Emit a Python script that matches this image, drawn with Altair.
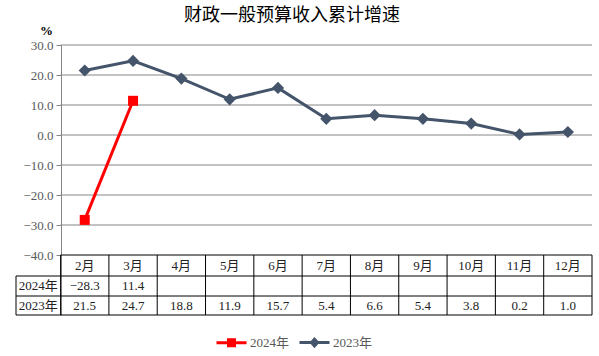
import altair as alt
import pandas as pd

# ---------------- data ----------------
title_text = "财政一般预算收入累计增速"
months = ["2月", "3月", "4月", "5月", "6月", "7月", "8月", "9月", "10月", "11月", "12月"]
series_names = ["2024年", "2023年"]
v2024 = [-28.3, 11.4]
v2023 = [21.5, 24.7, 18.8, 11.9, 15.7, 5.4, 6.6, 5.4, 3.8, 0.2, 1.0]
y_ticks = [30, 20, 10, 0, -10, -20, -30, -40]
unit_label = "%"

# ---------------- layout constants (data units) ----------------
HEAD_LEFT = -0.923          # left edge of the row-header column
ROW_EDGES = [-40, -47, -53.67, -60]   # table row boundaries on the y scale
Y_DOMAIN = [-60, 30]
X_DOMAIN = [HEAD_LEFT, len(months)]

COLORS = ["#FF0000", "#44546A"]
SHAPES = ["square", "diamond"]
SIZES = [100, 150]
FONT = "Liberation Serif, Noto Sans CJK SC"

# ---------------- tables built from the arrays ----------------
series_rows = []
for name, vals in zip(series_names, [v2024, v2023]):
    for i, v in enumerate(vals):
        series_rows.append({"series": name, "x": i + 0.5, "month": months[i], "v": v})
series_df = pd.DataFrame(series_rows)

row_mid = [(ROW_EDGES[k] + ROW_EDGES[k + 1]) / 2 for k in range(3)]

text_rows = [{"x": i + 0.5, "y": row_mid[0], "t": m} for i, m in enumerate(months)]
text_rows += [{"x": HEAD_LEFT / 2, "y": row_mid[k + 1], "t": s} for k, s in enumerate(series_names)]
text_df = pd.DataFrame(text_rows)

val_rows = []
for k, vals in enumerate([v2024, v2023]):
    for i, v in enumerate(vals):
        val_rows.append({"x": i + 0.5, "y": row_mid[k + 1], "v": v})
val_df = pd.DataFrame(val_rows)

grid_df = pd.DataFrame([{"x": 0, "x2": len(months), "y": t, "y2": t} for t in y_ticks if t > ROW_EDGES[0]])

table_lines = [{"x": 0, "x2": len(months), "y": ROW_EDGES[0], "y2": ROW_EDGES[0]}]
table_lines += [{"x": HEAD_LEFT, "x2": len(months), "y": e, "y2": e} for e in ROW_EDGES[1:]]
table_lines += [{"x": HEAD_LEFT, "x2": HEAD_LEFT, "y": ROW_EDGES[1], "y2": ROW_EDGES[-1]}]
table_lines += [{"x": c, "x2": c, "y": ROW_EDGES[0], "y2": ROW_EDGES[-1]} for c in range(len(months) + 1)]
table_df = pd.DataFrame(table_lines)

# ---------------- scales / axis ----------------
xs = alt.Scale(domain=X_DOMAIN, nice=False, zero=False)
ys = alt.Scale(domain=Y_DOMAIN, nice=False, zero=False)

X = alt.X("x:Q", scale=xs, axis=None)
Y_axis = alt.Axis(
    values=y_ticks, format=".1f", offset=-45, grid=False, zindex=0, labelOverlap=False,
    domainColor="#868686", tickColor="#868686", tickSize=5, labelPadding=3,
    labelFont=FONT, labelFontSize=13, labelColor="#595959",
    title=unit_label, titleAngle=0, titleAlign="center", titleBaseline="bottom",
    titleX=-15, titleY=-8, titleFont=FONT, titleFontSize=13, titleFontWeight="bold",
    titleColor="#000000",
)


def Yq(field):
    return alt.Y(field, scale=ys, axis=Y_axis)


grid = alt.Chart(grid_df).mark_rule(color="#868686", strokeWidth=1).encode(
    x=X, x2="x2:Q", y=Yq("y:Q"), y2="y2:Q"
)

table = alt.Chart(table_df).mark_rule(color="#000000", strokeWidth=1).encode(
    x=X, x2="x2:Q", y=Yq("y:Q"), y2="y2:Q"
)

series_layers = []
for name, col, shp, sz in zip(series_names, COLORS, SHAPES, SIZES):
    base = alt.Chart(series_df).transform_filter(alt.datum.series == name)
    series_layers.append(
        base.mark_line(strokeWidth=3, color=col).encode(x=X, y=Yq("v:Q"))
    )
    series_layers.append(
        base.mark_point(filled=True, opacity=1, shape=shp, size=sz, color=col).encode(x=X, y=Yq("v:Q"))
    )

legend_paths = [
    "M-1,0L1,0M-0.2,-0.2L0.2,-0.2L0.2,0.2L-0.2,0.2Z",
    "M-1,0L1,0M0,-0.22L0.2,0L0,0.22L-0.2,0Z",
]
LEG = alt.Legend(
    title=None, orient="none", direction="horizontal", legendX=199, legendY=281,
    symbolSize=900, symbolStrokeWidth=3, labelFont=FONT, labelFontSize=13,
    labelColor="#595959", labelOffset=2, columnPadding=3,
)
legend_layer = alt.Chart(series_df).transform_filter("false").mark_point(
    filled=True, opacity=1, size=900
).encode(
    x=X, y=Yq("v:Q"),
    fill=alt.Fill("series:N", scale=alt.Scale(domain=series_names, range=COLORS), legend=LEG),
    stroke=alt.Stroke("series:N", scale=alt.Scale(domain=series_names, range=COLORS), legend=LEG),
    shape=alt.Shape("series:N", scale=alt.Scale(domain=series_names, range=legend_paths), legend=LEG),
)

texts = alt.Chart(text_df).mark_text(font=FONT, fontSize=13, color="#222222").encode(
    x=X, y=Yq("y:Q"), text="t:N"
)
vals = alt.Chart(val_df).mark_text(font=FONT, fontSize=13, color="#222222").encode(
    x=X, y=Yq("y:Q"), text=alt.Text("v:Q", format=".1f")
)

chart = (
    alt.layer(grid, table, *series_layers, legend_layer, texts, vals)
    .properties(
        width=576, height=270,
        padding={"left": 16, "top": 45, "right": 7, "bottom": 41},
        autosize=alt.AutoSizeParams(type="none"),
        title=alt.TitleParams(
            title_text, anchor="middle", dx=-12, offset=-1,
            font="Noto Sans CJK SC", fontSize=18, fontWeight="normal", color="#000000",
        ),
    )
    .configure_view(stroke=None)
)

chart.save("out.html", embed_options={"renderer": "svg", "actions": False})
